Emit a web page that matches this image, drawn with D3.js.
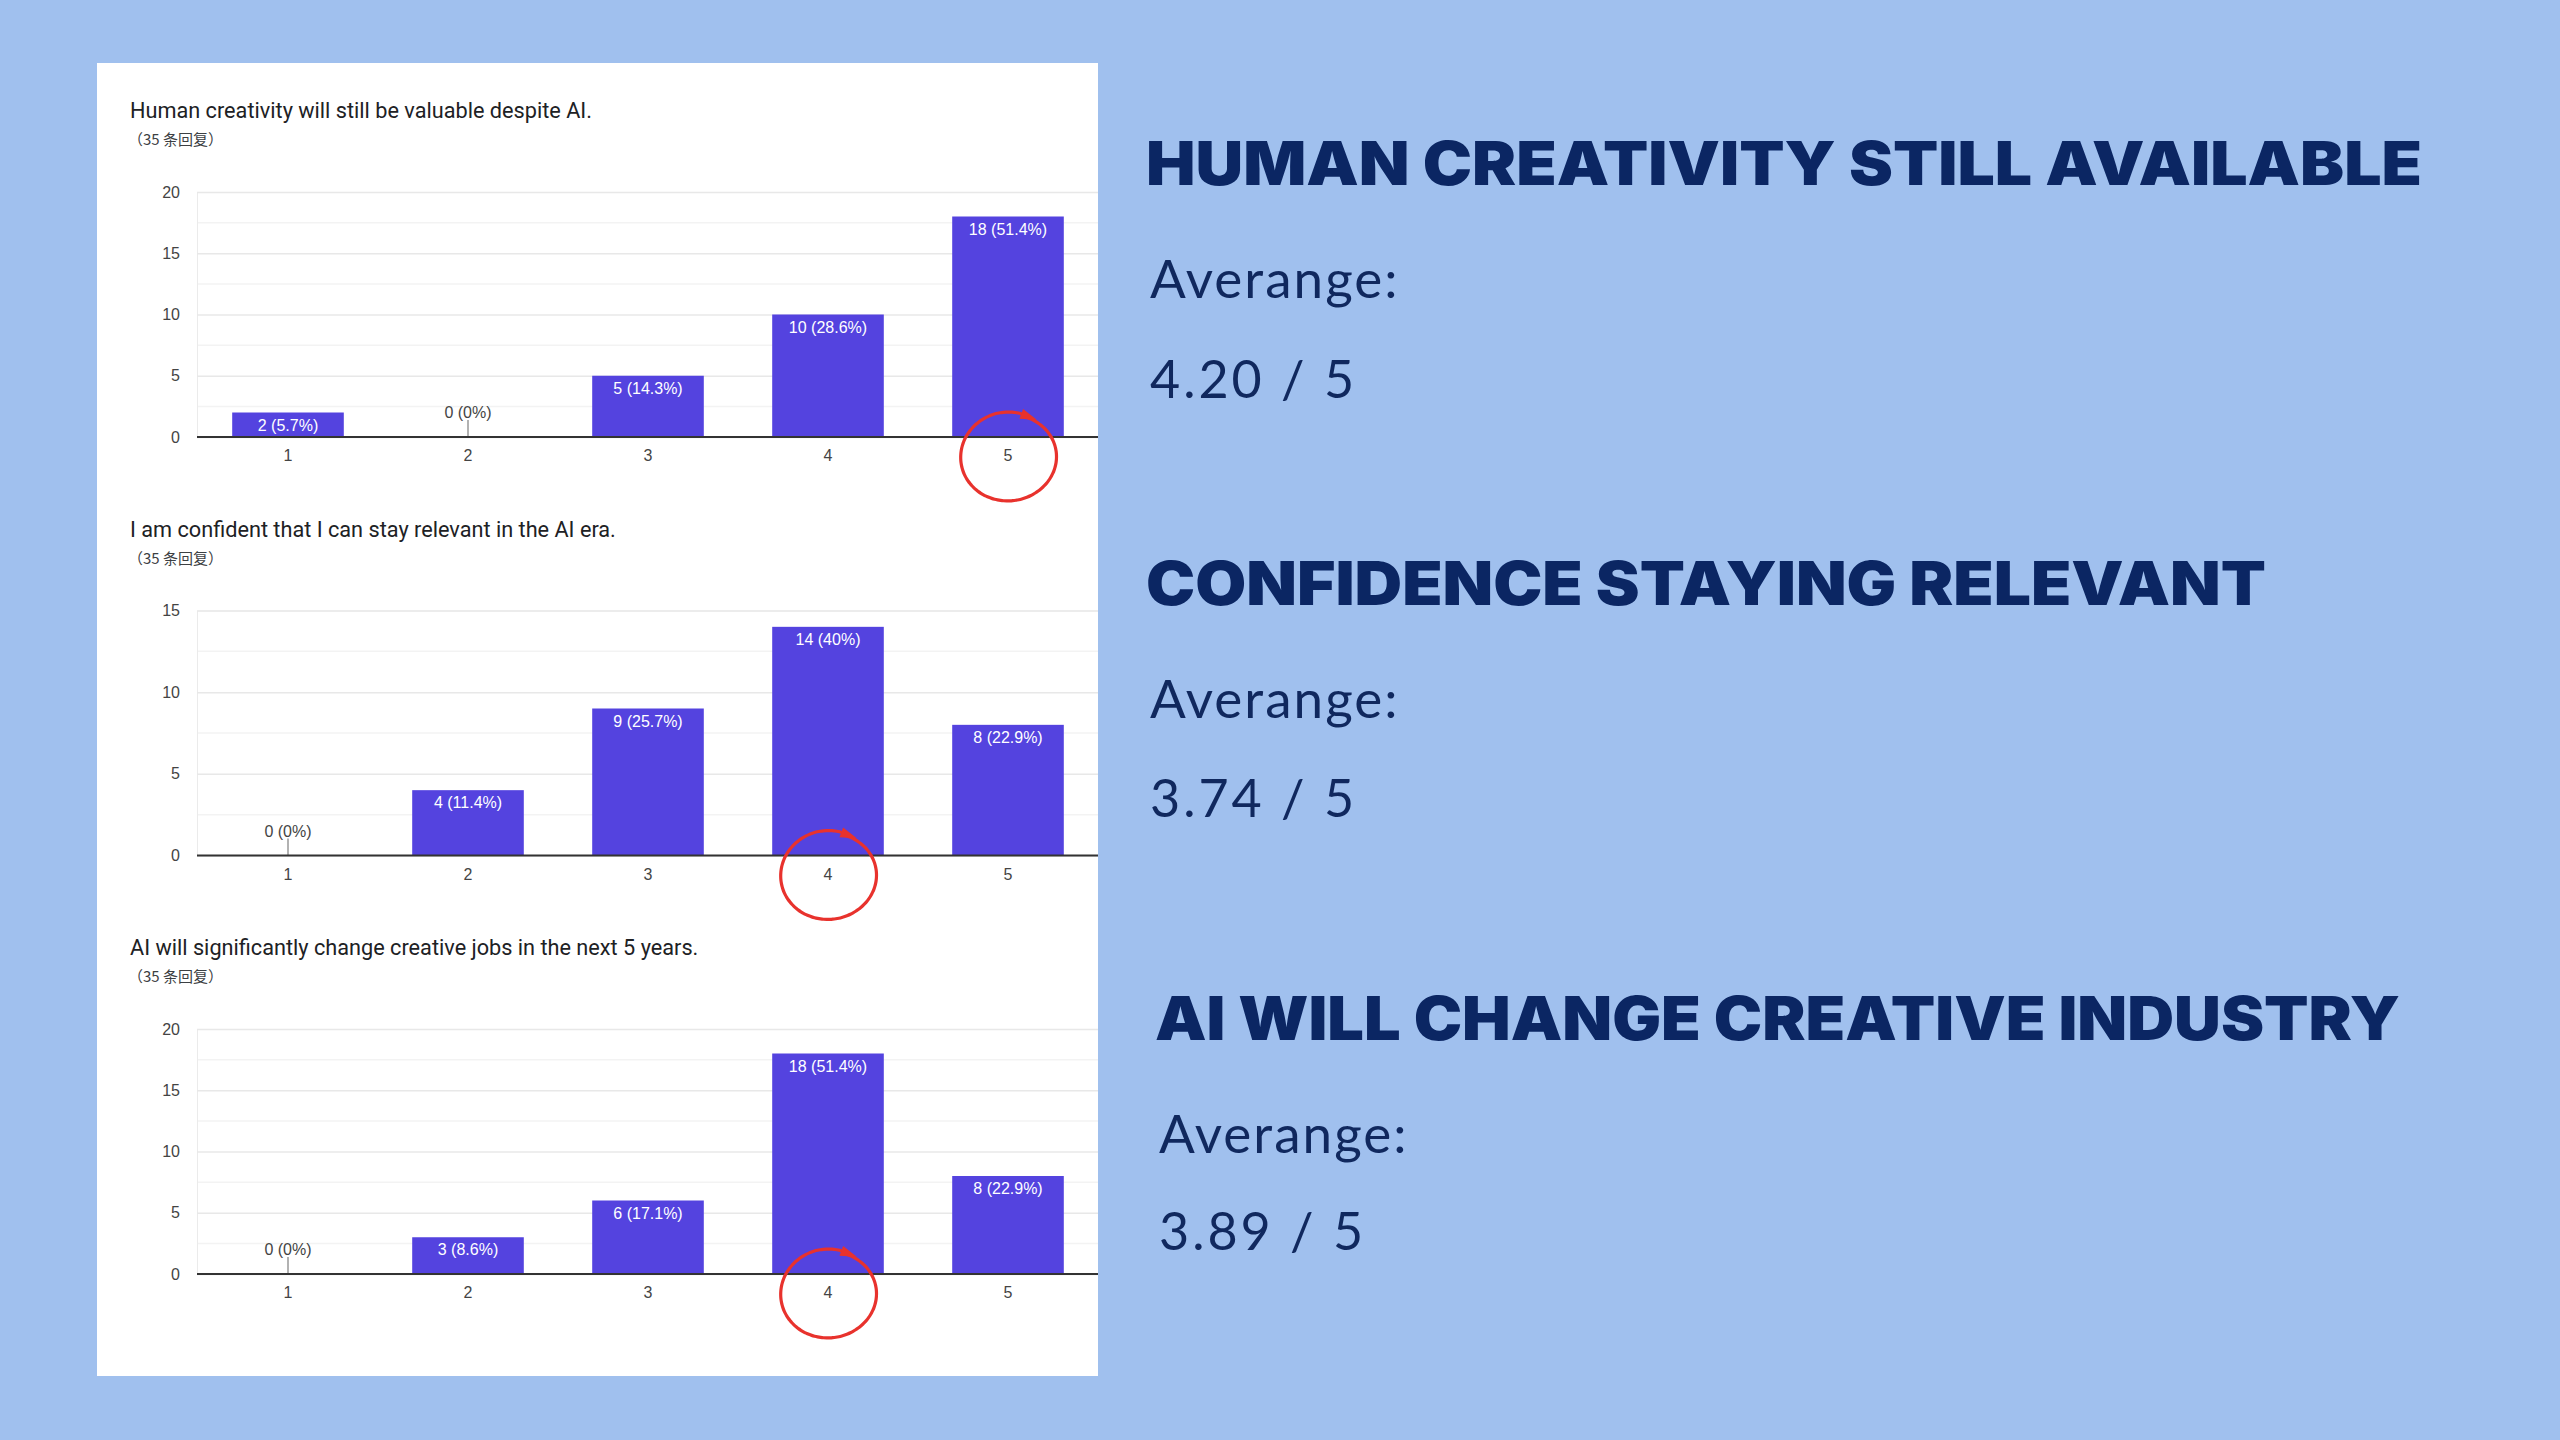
<!DOCTYPE html>
<html>
<head>
<meta charset="utf-8">
<script src="https://cdn.jsdelivr.net/npm/d3@7"></script>
<style>
  body { margin: 0; background: #a0c0ee; }
  svg { display: block; }
</style>
</head>
<body>
<div id="chart"></div>
<script>
const categories = ["1", "2", "3", "4", "5"];
const creativityCounts = [2, 0, 5, 10, 18];
const relevantCounts = [0, 4, 9, 14, 8];
const changeCounts = [0, 3, 6, 18, 8];
const questionTitles = [
  "Human creativity will still be valuable despite AI.",
  "I am confident that I can stay relevant in the AI era.",
  "AI will significantly change creative jobs in the next 5 years."
];
const yMaxes = [20, 15, 20];
const circled = ["5", "4", "4"];
const responses = 35;
const responseLabel = "（35 条回复）";
const headings = ["HUMAN CREATIVITY STILL AVAILABLE", "CONFIDENCE STAYING RELEVANT", "AI WILL CHANGE CREATIVE INDUSTRY"];
const averages = ["4.20", "3.74", "3.89"];

const width = 2560;
const height = 1440;
const navy = "#0b2663";
const barColor = "#5443df";
const red = "#e8322d";

const svg = d3.select("#chart").append("svg").attr("width", width).attr("height", height);

svg.append("rect").attr("width", width).attr("height", height).attr("fill", "#a0c0ee");

// white card with the three form charts
svg.append("rect").attr("x", 97).attr("y", 63).attr("width", 1001).attr("height", 1313).attr("fill", "#fff");

const seriesList = [creativityCounts, relevantCounts, changeCounts];

const x = d3.scaleBand().domain(categories).range([198, 1098]).paddingInner(0.38).paddingOuter(0.19);

const pctLabel = (n) => `${n} (${Math.round((n / responses) * 1000) / 10}%)`;

seriesList.forEach((counts, i) => {
  const top = 192 + i * 418.5;
  const base = top + 245;
  const y = d3.scaleLinear().domain([0, yMaxes[i]]).range([base, top]);
  const g = svg.append("g");

  g.append("text")
    .attr("x", 130)
    .attr("y", top - 74)
    .attr("font-family", "Roboto, sans-serif")
    .attr("font-size", 21.7)
    .attr("fill", "#202124")
    .text(questionTitles[i]);

  g.append("text")
    .attr("x", 128)
    .attr("y", top - 47)
    .attr("font-family", "'Noto Sans CJK SC', sans-serif")
    .attr("font-size", 15)
    .attr("fill", "#3c4043")
    .text(responseLabel);

  // minor and major grid lines
  const minor = d3.range(2.5, yMaxes[i], 5);
  g.selectAll(".minor")
    .data(minor)
    .enter()
    .append("line")
    .attr("x1", 198)
    .attr("x2", 1098)
    .attr("y1", (d) => y(d))
    .attr("y2", (d) => y(d))
    .attr("stroke", "#f3f3f3")
    .attr("stroke-width", 1.5);

  const yAxis = g
    .append("g")
    .attr("transform", "translate(197,0)")
    .call(d3.axisLeft(y).tickValues(d3.range(0, yMaxes[i] + 1, 5)).tickSize(-901).tickPadding(17));
  yAxis.select(".domain").attr("stroke", "#ebebeb");
  yAxis.selectAll(".tick line").attr("stroke", "#e8e8e8").attr("stroke-width", 1.5);
  yAxis.selectAll(".tick text")
    .attr("font-family", "'Liberation Sans', Arial, sans-serif")
    .attr("font-size", 16)
    .attr("fill", "#444");

  g.selectAll(".bar")
    .data(counts)
    .enter()
    .append("rect")
    .attr("x", (d, j) => x(categories[j]))
    .attr("y", (d) => y(d))
    .attr("width", x.bandwidth())
    .attr("height", (d) => base - y(d))
    .attr("fill", barColor);

  // little stem under the zero labels
  g.selectAll(".stem")
    .data(counts.map((d, j) => [d, j]).filter((p) => p[0] === 0))
    .enter()
    .append("line")
    .attr("x1", (p) => x(categories[p[1]]) + x.bandwidth() / 2)
    .attr("x2", (p) => x(categories[p[1]]) + x.bandwidth() / 2)
    .attr("y1", base - 17)
    .attr("y2", base)
    .attr("stroke", "#999")
    .attr("stroke-width", 1.5);

  g.selectAll(".bar-label")
    .data(counts)
    .enter()
    .append("text")
    .attr("x", (d, j) => x(categories[j]) + x.bandwidth() / 2)
    .attr("y", (d) => (d === 0 ? base - 19 : y(d) + 18))
    .attr("text-anchor", "middle")
    .attr("font-family", "'Liberation Sans', Arial, sans-serif")
    .attr("font-size", 16)
    .attr("fill", (d) => (d === 0 ? "#444" : "#fff"))
    .text((d) => pctLabel(d));

  const xAxis = g
    .append("g")
    .attr("transform", `translate(0,${base})`)
    .call(d3.axisBottom(x).tickSize(0).tickPadding(13));
  xAxis.select(".domain").attr("stroke", "#333").attr("stroke-width", 2).attr("d", "M197,0H1098");
  xAxis.selectAll(".tick text")
    .attr("font-family", "'Liberation Sans', Arial, sans-serif")
    .attr("font-size", 16)
    .attr("fill", "#444");

  // hand drawn red loop around the chosen answer, drawn clockwise, ending in a small arrow
  const cx = x(circled[i]) + x.bandwidth() / 2;
  const cy = base + 20;
  const loop = d3.range(0, 1.001, 0.01).map((t) => {
    const a = -Math.PI / 2 + 0.35 + t * Math.PI * 2.04;
    return [cx + Math.cos(a) * 49 * (1 - 0.05 * t), cy + Math.sin(a) * 43 * (1 + 0.05 * t)];
  });
  g.append("path")
    .attr("d", d3.line().curve(d3.curveBasis)(loop))
    .attr("fill", "none")
    .attr("stroke", red)
    .attr("stroke-width", 3.2)
    .attr("stroke-linecap", "round");
  const tip = loop[loop.length - 1];
  const prev = loop[loop.length - 4];
  const ang = Math.atan2(tip[1] - prev[1], tip[0] - prev[0]);
  const head = [
    [tip[0] + Math.cos(ang) * 8, tip[1] + Math.sin(ang) * 8],
    [tip[0] + Math.cos(ang + 2.6) * 10, tip[1] + Math.sin(ang + 2.6) * 10],
    [tip[0] + Math.cos(ang - 2.6) * 10, tip[1] + Math.sin(ang - 2.6) * 10]
  ];
  g.append("path").attr("d", `M${head.join("L")}Z`).attr("fill", red);
});

// right hand summary texts
const headingX = [1146, 1146, 1155];
const headingY = [185, 605, 1040];
const headingW = [1276, 1120, 1245];
const avgX = [1150, 1150, 1159];
const avgLabelY = [298, 718, 1153];
const avgValueY = [398, 817, 1250];

headings.forEach((h, i) => {
  svg.append("text")
    .attr("x", headingX[i])
    .attr("y", headingY[i])
    .attr("font-family", "Inter, sans-serif")
    .attr("font-weight", 900)
    .attr("font-size", 60)
    .attr("textLength", headingW[i])
    .attr("lengthAdjust", "spacingAndGlyphs")
    .attr("fill", navy)
    .text(h);

  svg.append("text")
    .attr("x", avgX[i])
    .attr("y", avgLabelY[i])
    .attr("font-family", "Lato, sans-serif")
    .attr("font-size", 53)
    .attr("letter-spacing", 2)
    .attr("fill", "#10285e")
    .text("Averange:");

  svg.append("text")
    .attr("x", avgX[i])
    .attr("y", avgValueY[i])
    .attr("font-family", "Lato, sans-serif")
    .attr("font-size", 52)
    .attr("letter-spacing", 3)
    .attr("fill", "#10285e")
    .text(`${averages[i]} / 5`);
});
</script>
</body>
</html>
